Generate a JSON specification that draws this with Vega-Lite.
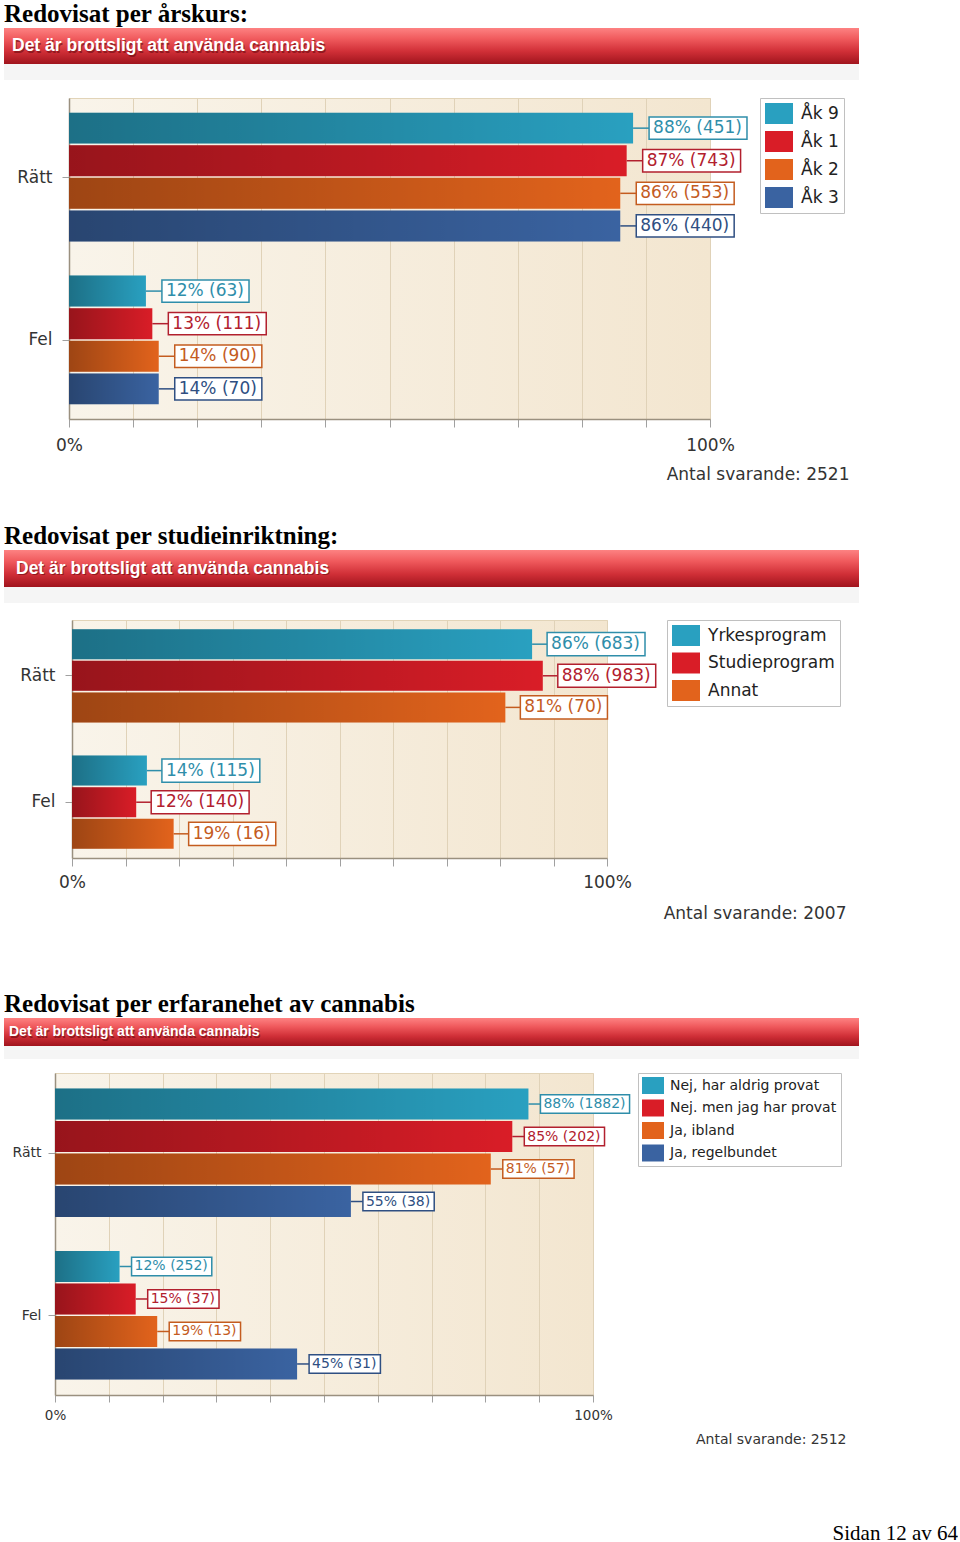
{
  "$schema": "https://vega.github.io/schema/vega-lite/v6.json",
  "padding": {"left": 4, "top": 2, "right": 0, "bottom": 0},
  "background": "white",
  "spacing": 0,
  "resolve": {"scale": {"color": "independent", "stroke": "independent", "fill": "independent"}, "legend": {"color": "independent"}},
  "config": {
    "view": {"stroke": null},
    "font": "DejaVu Sans"
  },
  "datasets": {
    "p1": [
      {"grp": "Rätt", "s": "Åk 9", "pct": 88, "n": 451},
      {"grp": "Rätt", "s": "Åk 1", "pct": 87, "n": 743},
      {"grp": "Rätt", "s": "Åk 2", "pct": 86, "n": 553},
      {"grp": "Rätt", "s": "Åk 3", "pct": 86, "n": 440},
      {"grp": "Fel", "s": "Åk 9", "pct": 12, "n": 63},
      {"grp": "Fel", "s": "Åk 1", "pct": 13, "n": 111},
      {"grp": "Fel", "s": "Åk 2", "pct": 14, "n": 90},
      {"grp": "Fel", "s": "Åk 3", "pct": 14, "n": 70}
    ],
    "p2": [
      {"grp": "Rätt", "s": "Yrkesprogram", "pct": 86, "n": 683},
      {"grp": "Rätt", "s": "Studieprogram", "pct": 88, "n": 983},
      {"grp": "Rätt", "s": "Annat", "pct": 81, "n": 70},
      {"grp": "Fel", "s": "Yrkesprogram", "pct": 14, "n": 115},
      {"grp": "Fel", "s": "Studieprogram", "pct": 12, "n": 140},
      {"grp": "Fel", "s": "Annat", "pct": 19, "n": 16}
    ],
    "p3": [
      {"grp": "Rätt", "s": "Nej, har aldrig provat", "pct": 88, "n": 1882},
      {"grp": "Rätt", "s": "Nej. men jag har provat", "pct": 85, "n": 202},
      {"grp": "Rätt", "s": "Ja, ibland", "pct": 81, "n": 57},
      {"grp": "Rätt", "s": "Ja, regelbundet", "pct": 55, "n": 38},
      {"grp": "Fel", "s": "Nej, har aldrig provat", "pct": 12, "n": 252},
      {"grp": "Fel", "s": "Nej. men jag har provat", "pct": 15, "n": 37},
      {"grp": "Fel", "s": "Ja, ibland", "pct": 19, "n": 13},
      {"grp": "Fel", "s": "Ja, regelbundet", "pct": 45, "n": 31}
    ]
  },
  "vconcat": [
    {
      "width": 855, "height": 36,
      "data": {"values": [{"t": "Det är brottsligt att använda cannabis"}]},
      "title": {"text": "Redovisat per årskurs:", "anchor": "start", "frame": "group", "font": "Liberation Serif", "fontSize": 25, "fontWeight": "bold", "color": "#000000", "baseline": "alphabetic", "offset": -19},
      "encoding": {
        "x": {"datum": 0, "type": "quantitative", "scale": {"domain": [0, 1], "nice": false, "zero": false}, "axis": null},
        "y": {"datum": 0, "type": "quantitative", "scale": {"domain": [0, 1], "nice": false, "zero": false}, "axis": null}
      },
      "layer": [
        {"mark": {"type": "rect", "fill": {"gradient": "linear", "x1": 0, "y1": 0, "x2": 0, "y2": 1, "stops": [{"offset": 0, "color": "#fd8282"}, {"offset": 0.3, "color": "#f05a5d"}, {"offset": 0.65, "color": "#d02f37"}, {"offset": 1, "color": "#a0141d"}]}}, "encoding": {"x2": {"datum": 1}, "y2": {"datum": 1}}},
        {"mark": {"type": "text", "align": "left", "baseline": "middle", "dx": 9, "dy": 1.5, "font": "Liberation Sans", "fontWeight": "bold", "fontSize": 17.5, "fill": "#6a0a10", "opacity": 0.6}, "encoding": {"y": {"datum": 0.5, "type": "quantitative"}, "text": {"field": "t"}}},
        {"mark": {"type": "text", "align": "left", "baseline": "middle", "dx": 8, "font": "Liberation Sans", "fontWeight": "bold", "fontSize": 17.5, "fill": "#ffffff"}, "encoding": {"y": {"datum": 0.5, "type": "quantitative"}, "text": {"field": "t"}}}
      ]
    },
    {"width": 855, "height": 16, "data": {"values": []}, "mark": "point", "view": {"fill": "#f5f5f5", "stroke": null}},
    {"width": 1, "height": 17, "data": {"values": []}, "mark": "point"},
    {"spacing": 0, "resolve": {"scale": {"color": "independent", "stroke": "independent", "fill": "independent"}, "legend": {"color": "independent"}}, "hconcat": [
      {"width": 1, "height": 1, "data": {"values": []}, "mark": "point"},
      {
      "width": 641, "height": 321,
      "data": {"name": "p1"},
      "view": {"fill": {"gradient": "linear", "x1": 0, "y1": 0, "x2": 1, "y2": 0, "stops": [{"offset": 0, "color": "#f9f4ea"}, {"offset": 1, "color": "#f3e6d0"}]}, "stroke": "#e2d4b8", "strokeWidth": 1},
      "title": {"text": "Antal svarande: 2521", "orient": "bottom", "anchor": "end", "frame": "bounds", "baseline": "top", "offset": 14, "dx": 5, "font": "DejaVu Sans", "fontSize": 17, "fontWeight": "normal", "color": "#333333"},
      "transform": [
        {"calculate": "indexof(['Åk 9', 'Åk 1', 'Åk 2', 'Åk 3'], datum.s)", "as": "i"},
        {"calculate": "datum.grp + '|' + datum.i", "as": "k"},
        {"calculate": "datum.s", "as": "s2"},
        {"calculate": "datum.pct + '% (' + datum.n + ')'", "as": "lab"},
        {"calculate": "datum.pct + (((length(datum.lab) - 4) * 0.636 + 2.05) * 17 + 9) / 6.41", "as": "boxEnd"}
      ],
      "encoding": {
        "y": {"field": "k", "type": "nominal", "scale": {"type": "band", "domain": ["Rätt|0", "Rätt|1", "Rätt|2", "Rätt|3", "gap", "Fel|0", "Fel|1", "Fel|2", "Fel|3"], "paddingInner": 0.05, "paddingOuter": 0.45}, "axis": {"title": null, "values": ["Rätt|1", "Fel|1"], "labelExpr": "split(datum.value, '|')[0]", "tickOffset": 16.3, "domainColor": "#9a907f", "domainWidth": 1.5, "tickColor": "#a0a0a0", "tickSize": 7, "labelFont": "DejaVu Sans", "labelFontSize": 17, "labelColor": "#333333", "labelPadding": 10, "minExtent": 63, "maxExtent": 63}}
      },
      "layer": [
        {"mark": {"type": "bar"}, "encoding": {
          "x": {"field": "pct", "type": "quantitative", "scale": {"domain": [0, 100], "nice": false}, "axis": {"title": null, "values": [0,2.5,5,7.5,10,12.5,15,17.5,20,22.5,25,27.5,30,32.5,35,37.5,40,42.5,45,47.5,50,52.5,55,57.5,60,62.5,65,67.5,70,72.5,75,77.5,80,82.5,85,87.5,90,92.5,95,97.5,100], "grid": true, "gridColor": "#e0d2b8", "gridOpacity": {"condition": {"test": "datum.value % 10 == 0", "value": 1}, "value": 0}, "tickColor": "#a0a0a0", "tickSize": {"condition": {"test": "datum.value % 10 == 0", "value": 8}, "value": 4}, "domainColor": "#9a907f", "domainWidth": 1.5, "labelExpr": "datum.value == 0 || datum.value == 100 ? datum.value + '%' : ''", "labelFlush": false, "labelOverlap": false, "labelFont": "DejaVu Sans", "labelFontSize": 17, "labelColor": "#333333", "labelPadding": 10}},
          "color": {"field": "s", "type": "nominal", "sort": null, "scale": {"range": ["#29a0c0", "#d91d27", "#e2631c", "#3a63a1"]}, "legend": {"title": null, "orient": "right", "offset": 50, "padding": 5, "fillColor": "white", "strokeColor": "#c0c0c0", "symbolType": "M-1.333,-1H1.333V1H-1.333Z", "symbolSize": 441, "symbolOffset": 3.5, "symbolStrokeWidth": 0, "labelOffset": 11.5, "rowPadding": 7, "labelFont": "DejaVu Sans", "labelFontSize": 17, "labelColor": "#222222", "labelLimit": 300}}
        }},
        {"mark": {"type": "bar", "fill": {"gradient": "linear", "x1": 0, "y1": 0, "x2": 1, "y2": 0, "stops": [{"offset": 0, "color": "rgba(0,0,0,0.3)"}, {"offset": 1, "color": "rgba(0,0,0,0)"}]}}, "encoding": {"x": {"field": "pct", "type": "quantitative"}}},
        {"mark": {"type": "rule", "x2Offset": 16, "strokeWidth": 1.5}, "encoding": {"x": {"field": "pct", "type": "quantitative"}, "x2": {"field": "pct"}, "stroke": {"field": "s2", "type": "nominal", "sort": null, "scale": {"range": ["#2f8eaa", "#b2202e", "#c45c1f", "#2f4f82"]}, "legend": null}}},
        {"mark": {"type": "bar", "fill": "white", "strokeWidth": 1.5, "height": {"band": 0.72}, "xOffset": 16, "x2Offset": 16}, "encoding": {"x": {"field": "pct", "type": "quantitative"}, "x2": {"field": "boxEnd"}, "stroke": {"field": "s2", "type": "nominal", "sort": null, "legend": null}}},
        {"mark": {"type": "text", "align": "left", "baseline": "middle", "dx": 20, "font": "DejaVu Sans", "fontSize": 17}, "encoding": {"x": {"field": "pct", "type": "quantitative"}, "text": {"field": "lab"}, "fill": {"field": "s2", "type": "nominal", "sort": null, "scale": {"range": ["#2f8eaa", "#b2202e", "#c45c1f", "#2f4f82"]}, "legend": null}}}
      ]
    }]},
    {"width": 1, "height": 40, "data": {"values": []}, "mark": "point"},
    {
      "width": 855, "height": 37,
      "data": {"values": [{"t": "Det är brottsligt att använda cannabis"}]},
      "title": {"text": "Redovisat per studieinriktning:", "anchor": "start", "frame": "group", "font": "Liberation Serif", "fontSize": 25, "fontWeight": "bold", "color": "#000000", "baseline": "alphabetic", "offset": -19},
      "encoding": {
        "x": {"datum": 0, "type": "quantitative", "scale": {"domain": [0, 1], "nice": false, "zero": false}, "axis": null},
        "y": {"datum": 0, "type": "quantitative", "scale": {"domain": [0, 1], "nice": false, "zero": false}, "axis": null}
      },
      "layer": [
        {"mark": {"type": "rect", "fill": {"gradient": "linear", "x1": 0, "y1": 0, "x2": 0, "y2": 1, "stops": [{"offset": 0, "color": "#fd8282"}, {"offset": 0.3, "color": "#f05a5d"}, {"offset": 0.65, "color": "#d02f37"}, {"offset": 1, "color": "#a0141d"}]}}, "encoding": {"x2": {"datum": 1}, "y2": {"datum": 1}}},
        {"mark": {"type": "text", "align": "left", "baseline": "middle", "dx": 13, "dy": 1.5, "font": "Liberation Sans", "fontWeight": "bold", "fontSize": 17.5, "fill": "#6a0a10", "opacity": 0.6}, "encoding": {"y": {"datum": 0.5, "type": "quantitative"}, "text": {"field": "t"}}},
        {"mark": {"type": "text", "align": "left", "baseline": "middle", "dx": 12, "font": "Liberation Sans", "fontWeight": "bold", "fontSize": 17.5, "fill": "#ffffff"}, "encoding": {"y": {"datum": 0.5, "type": "quantitative"}, "text": {"field": "t"}}}
      ]
    },
    {"width": 855, "height": 16, "data": {"values": []}, "mark": "point", "view": {"fill": "#f5f5f5", "stroke": null}},
    {"width": 1, "height": 16, "data": {"values": []}, "mark": "point"},
    {"spacing": 0, "resolve": {"scale": {"color": "independent", "stroke": "independent", "fill": "independent"}, "legend": {"color": "independent"}}, "hconcat": [
      {"width": 1, "height": 1, "data": {"values": []}, "mark": "point"},
      {
      "width": 535, "height": 238,
      "data": {"name": "p2"},
      "view": {"fill": {"gradient": "linear", "x1": 0, "y1": 0, "x2": 1, "y2": 0, "stops": [{"offset": 0, "color": "#f9f4ea"}, {"offset": 1, "color": "#f3e6d0"}]}, "stroke": "#e2d4b8", "strokeWidth": 1},
      "title": {"text": "Antal svarande: 2007", "orient": "bottom", "anchor": "end", "frame": "bounds", "baseline": "top", "offset": 16, "dx": 6, "font": "DejaVu Sans", "fontSize": 17, "fontWeight": "normal", "color": "#333333"},
      "transform": [
        {"calculate": "indexof(['Yrkesprogram', 'Studieprogram', 'Annat'], datum.s)", "as": "i"},
        {"calculate": "datum.grp + '|' + datum.i", "as": "k"},
        {"calculate": "datum.s", "as": "s2"},
        {"calculate": "datum.pct + '% (' + datum.n + ')'", "as": "lab"},
        {"calculate": "datum.pct + (((length(datum.lab) - 4) * 0.636 + 2.05) * 17 + 9) / 5.35", "as": "boxEnd"}
      ],
      "encoding": {
        "y": {"field": "k", "type": "nominal", "scale": {"type": "band", "domain": ["Rätt|0", "Rätt|1", "Rätt|2", "gap", "Fel|0", "Fel|1", "Fel|2"], "paddingInner": 0.05, "paddingOuter": 0.29}, "axis": {"title": null, "values": ["Rätt|1", "Fel|1"], "labelExpr": "split(datum.value, '|')[0]", "domainColor": "#9a907f", "domainWidth": 1.5, "tickColor": "#a0a0a0", "tickSize": 7, "labelFont": "DejaVu Sans", "labelFontSize": 17, "labelColor": "#333333", "labelPadding": 10, "minExtent": 66, "maxExtent": 66}}
      },
      "layer": [
        {"mark": {"type": "bar"}, "encoding": {
          "x": {"field": "pct", "type": "quantitative", "scale": {"domain": [0, 100], "nice": false}, "axis": {"title": null, "values": [0,2.5,5,7.5,10,12.5,15,17.5,20,22.5,25,27.5,30,32.5,35,37.5,40,42.5,45,47.5,50,52.5,55,57.5,60,62.5,65,67.5,70,72.5,75,77.5,80,82.5,85,87.5,90,92.5,95,97.5,100], "grid": true, "gridColor": "#e0d2b8", "gridOpacity": {"condition": {"test": "datum.value % 10 == 0", "value": 1}, "value": 0}, "tickColor": "#a0a0a0", "tickSize": {"condition": {"test": "datum.value % 10 == 0", "value": 8}, "value": 4}, "domainColor": "#9a907f", "domainWidth": 1.5, "labelExpr": "datum.value == 0 || datum.value == 100 ? datum.value + '%' : ''", "labelFlush": false, "labelOverlap": false, "labelFont": "DejaVu Sans", "labelFontSize": 17, "labelColor": "#333333", "labelPadding": 8}},
          "color": {"field": "s", "type": "nominal", "sort": null, "scale": {"range": ["#29a0c0", "#d91d27", "#e2631c"]}, "legend": {"title": null, "orient": "right", "offset": 60, "padding": 5, "fillColor": "white", "strokeColor": "#c0c0c0", "symbolType": "M-1.333,-1H1.333V1H-1.333Z", "symbolSize": 441, "symbolOffset": 3.5, "symbolStrokeWidth": 0, "labelOffset": 11.5, "rowPadding": 6.5, "labelFont": "DejaVu Sans", "labelFontSize": 17, "labelColor": "#222222", "labelLimit": 300}}
        }},
        {"mark": {"type": "bar", "fill": {"gradient": "linear", "x1": 0, "y1": 0, "x2": 1, "y2": 0, "stops": [{"offset": 0, "color": "rgba(0,0,0,0.3)"}, {"offset": 1, "color": "rgba(0,0,0,0)"}]}}, "encoding": {"x": {"field": "pct", "type": "quantitative"}}},
        {"mark": {"type": "rule", "x2Offset": 15, "strokeWidth": 1.5}, "encoding": {"x": {"field": "pct", "type": "quantitative"}, "x2": {"field": "pct"}, "stroke": {"field": "s2", "type": "nominal", "sort": null, "scale": {"range": ["#2f8eaa", "#b2202e", "#c45c1f"]}, "legend": null}}},
        {"mark": {"type": "bar", "fill": "white", "strokeWidth": 1.5, "height": {"band": 0.77}, "xOffset": 15, "x2Offset": 15}, "encoding": {"x": {"field": "pct", "type": "quantitative"}, "x2": {"field": "boxEnd"}, "stroke": {"field": "s2", "type": "nominal", "sort": null, "legend": null}}},
        {"mark": {"type": "text", "align": "left", "baseline": "middle", "dx": 19, "font": "DejaVu Sans", "fontSize": 17}, "encoding": {"x": {"field": "pct", "type": "quantitative"}, "text": {"field": "lab"}, "fill": {"field": "s2", "type": "nominal", "sort": null, "scale": {"range": ["#2f8eaa", "#b2202e", "#c45c1f"]}, "legend": null}}}
      ]
    }]},
    {"width": 1, "height": 69, "data": {"values": []}, "mark": "point"},
    {
      "width": 855, "height": 28,
      "data": {"values": [{"t": "Det är brottsligt att använda cannabis"}]},
      "title": {"text": "Redovisat per erfaranehet av cannabis", "anchor": "start", "frame": "group", "font": "Liberation Serif", "fontSize": 25, "fontWeight": "bold", "color": "#000000", "baseline": "alphabetic", "offset": -19},
      "encoding": {
        "x": {"datum": 0, "type": "quantitative", "scale": {"domain": [0, 1], "nice": false, "zero": false}, "axis": null},
        "y": {"datum": 0, "type": "quantitative", "scale": {"domain": [0, 1], "nice": false, "zero": false}, "axis": null}
      },
      "layer": [
        {"mark": {"type": "rect", "fill": {"gradient": "linear", "x1": 0, "y1": 0, "x2": 0, "y2": 1, "stops": [{"offset": 0, "color": "#fd8282"}, {"offset": 0.3, "color": "#f05a5d"}, {"offset": 0.65, "color": "#d02f37"}, {"offset": 1, "color": "#a0141d"}]}}, "encoding": {"x2": {"datum": 1}, "y2": {"datum": 1}}},
        {"mark": {"type": "text", "align": "left", "baseline": "middle", "dx": 6, "dy": 1.5, "font": "Liberation Sans", "fontWeight": "bold", "fontSize": 14, "fill": "#6a0a10", "opacity": 0.6}, "encoding": {"y": {"datum": 0.5, "type": "quantitative"}, "text": {"field": "t"}}},
        {"mark": {"type": "text", "align": "left", "baseline": "middle", "dx": 5, "font": "Liberation Sans", "fontWeight": "bold", "fontSize": 14, "fill": "#ffffff"}, "encoding": {"y": {"datum": 0.5, "type": "quantitative"}, "text": {"field": "t"}}}
      ]
    },
    {"width": 855, "height": 13, "data": {"values": []}, "mark": "point", "view": {"fill": "#f5f5f5", "stroke": null}},
    {"width": 1, "height": 13, "data": {"values": []}, "mark": "point"},
    {"spacing": 0, "resolve": {"scale": {"color": "independent", "stroke": "independent", "fill": "independent"}, "legend": {"color": "independent"}}, "hconcat": [
      {"width": 1, "height": 1, "data": {"values": []}, "mark": "point"},
      {
      "width": 538, "height": 322,
      "data": {"name": "p3"},
      "view": {"fill": {"gradient": "linear", "x1": 0, "y1": 0, "x2": 1, "y2": 0, "stops": [{"offset": 0, "color": "#f9f4ea"}, {"offset": 1, "color": "#f3e6d0"}]}, "stroke": "#e2d4b8", "strokeWidth": 1},
      "title": {"text": "Antal svarande: 2512", "orient": "bottom", "anchor": "end", "frame": "bounds", "baseline": "top", "offset": 11, "dx": 5, "font": "DejaVu Sans", "fontSize": 14, "fontWeight": "normal", "color": "#333333"},
      "transform": [
        {"calculate": "indexof(['Nej, har aldrig provat', 'Nej. men jag har provat', 'Ja, ibland', 'Ja, regelbundet'], datum.s)", "as": "i"},
        {"calculate": "datum.grp + '|' + datum.i", "as": "k"},
        {"calculate": "datum.s", "as": "s2"},
        {"calculate": "datum.pct + '% (' + datum.n + ')'", "as": "lab"},
        {"calculate": "datum.pct + (((length(datum.lab) - 4) * 0.636 + 2.05) * 14 + 7) / 5.38", "as": "boxEnd"}
      ],
      "encoding": {
        "y": {"field": "k", "type": "nominal", "scale": {"type": "band", "domain": ["Rätt|0", "Rätt|1", "Rätt|2", "Rätt|3", "gap", "Fel|0", "Fel|1", "Fel|2", "Fel|3"], "paddingInner": 0.05, "paddingOuter": 0.48}, "axis": {"title": null, "values": ["Rätt|1", "Fel|1"], "labelExpr": "split(datum.value, '|')[0]", "tickOffset": 16.25, "domainColor": "#9a907f", "domainWidth": 1.5, "tickColor": "#a0a0a0", "tickSize": 7, "labelFont": "DejaVu Sans", "labelFontSize": 14, "labelColor": "#333333", "labelPadding": 7, "minExtent": 49, "maxExtent": 49}}
      },
      "layer": [
        {"mark": {"type": "bar"}, "encoding": {
          "x": {"field": "pct", "type": "quantitative", "scale": {"domain": [0, 100], "nice": false}, "axis": {"title": null, "values": [0,2.5,5,7.5,10,12.5,15,17.5,20,22.5,25,27.5,30,32.5,35,37.5,40,42.5,45,47.5,50,52.5,55,57.5,60,62.5,65,67.5,70,72.5,75,77.5,80,82.5,85,87.5,90,92.5,95,97.5,100], "grid": true, "gridColor": "#e0d2b8", "gridOpacity": {"condition": {"test": "datum.value % 10 == 0", "value": 1}, "value": 0}, "tickColor": "#a0a0a0", "tickSize": {"condition": {"test": "datum.value % 10 == 0", "value": 7}, "value": 4}, "domainColor": "#9a907f", "domainWidth": 1.5, "labelExpr": "datum.value == 0 || datum.value == 100 ? datum.value + '%' : ''", "labelFlush": false, "labelOverlap": false, "labelFont": "DejaVu Sans", "labelFontSize": 13.5, "labelColor": "#333333", "labelPadding": 6}},
          "color": {"field": "s", "type": "nominal", "sort": null, "scale": {"range": ["#29a0c0", "#d91d27", "#e2631c", "#3a63a1"]}, "legend": {"title": null, "orient": "right", "offset": 45, "padding": 4, "fillColor": "white", "strokeColor": "#c0c0c0", "symbolType": "M-1.294,-1H1.294V1H-1.294Z", "symbolSize": 289, "symbolOffset": 2.5, "symbolStrokeWidth": 0, "labelOffset": 8.5, "rowPadding": 5.5, "labelFont": "DejaVu Sans", "labelFontSize": 14, "labelColor": "#222222", "labelLimit": 300}}
        }},
        {"mark": {"type": "bar", "fill": {"gradient": "linear", "x1": 0, "y1": 0, "x2": 1, "y2": 0, "stops": [{"offset": 0, "color": "rgba(0,0,0,0.3)"}, {"offset": 1, "color": "rgba(0,0,0,0)"}]}}, "encoding": {"x": {"field": "pct", "type": "quantitative"}}},
        {"mark": {"type": "rule", "x2Offset": 12, "strokeWidth": 1.5}, "encoding": {"x": {"field": "pct", "type": "quantitative"}, "x2": {"field": "pct"}, "stroke": {"field": "s2", "type": "nominal", "sort": null, "scale": {"range": ["#2f8eaa", "#b2202e", "#c45c1f", "#2f4f82"]}, "legend": null}}},
        {"mark": {"type": "bar", "fill": "white", "strokeWidth": 1.5, "height": {"band": 0.6}, "xOffset": 12, "x2Offset": 12}, "encoding": {"x": {"field": "pct", "type": "quantitative"}, "x2": {"field": "boxEnd"}, "stroke": {"field": "s2", "type": "nominal", "sort": null, "legend": null}}},
        {"mark": {"type": "text", "align": "left", "baseline": "middle", "dx": 15, "font": "DejaVu Sans", "fontSize": 14}, "encoding": {"x": {"field": "pct", "type": "quantitative"}, "text": {"field": "lab"}, "fill": {"field": "s2", "type": "nominal", "sort": null, "scale": {"range": ["#2f8eaa", "#b2202e", "#c45c1f", "#2f4f82"]}, "legend": null}}}
      ]
    }]},
    {"width": 1, "height": 73, "data": {"values": []}, "mark": "point"},
    {
      "width": 954, "height": 20,
      "data": {"values": [{"t": "Sidan 12 av 64"}]},
      "mark": {"type": "text", "align": "right", "baseline": "alphabetic", "font": "Liberation Serif", "fontSize": 21, "fill": "#000000"},
      "encoding": {
        "x": {"datum": 1, "type": "quantitative", "scale": {"domain": [0, 1], "nice": false, "zero": false}, "axis": null},
        "y": {"datum": 0, "type": "quantitative", "scale": {"domain": [0, 1], "nice": false, "zero": false}, "axis": null},
        "text": {"field": "t"}
      }
    }
  ]
}
